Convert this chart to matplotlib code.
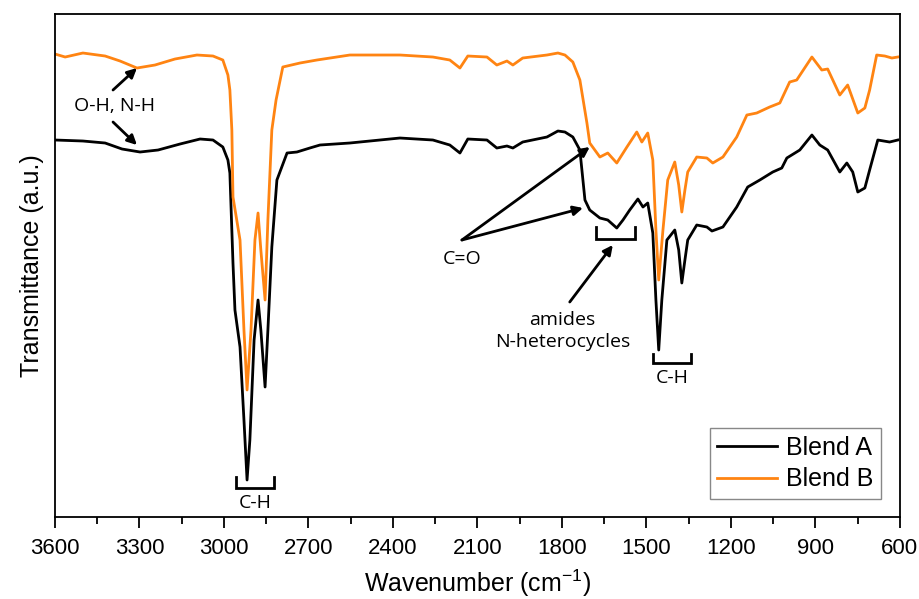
import numpy as np
import matplotlib
matplotlib.use("Agg")
import matplotlib.pyplot as plt

# ---- spectra (wavenumber in cm-1, transmittance in a.u.) ----
wn_a = [3600, 3501, 3422, 3362, 3298, 3234, 3156, 3085, 3039, 3004, 2986, 2979,
        2968, 2961, 2943, 2929, 2918, 2908, 2893, 2879, 2869, 2854, 2844, 2830,
        2812, 2776, 2741, 2695, 2659, 2553, 2375, 2258, 2198, 2162, 2134, 2066,
        2031, 1995, 1974, 1939, 1853, 1814, 1789, 1761, 1736, 1718, 1701, 1665,
        1637, 1605, 1583, 1559, 1530, 1512, 1495, 1477, 1466, 1456, 1445, 1427,
        1399, 1385, 1374, 1363, 1353, 1321, 1285, 1267, 1228, 1179, 1140, 1097,
        1051, 1019, 1001, 955, 912, 884, 856, 813, 788, 767, 749, 724, 707, 678,
        636, 607]
t_a = [377, 376, 374, 368, 365, 367, 373, 378, 377, 370, 357, 344,
       254, 207, 170, 97, 37, 77, 177, 217, 187, 130, 187, 270,
       337, 364, 365, 369, 372, 374, 379, 377, 372, 364, 378, 377,
       369, 371, 369, 375, 380, 386, 385, 380, 367, 317, 307, 299,
       297, 289, 297, 307, 318, 310, 314, 284, 217, 167, 217, 277,
       287, 267, 234, 257, 277, 292, 290, 286, 290, 310, 330, 337,
       345, 349, 359, 367, 382, 372, 367, 345, 354, 345, 325, 329, 347, 377,
       375, 377]

wn_b = [3600, 3564, 3501, 3422, 3369, 3309, 3245, 3174, 3096, 3039, 3004, 2986,
        2979, 2972, 2968, 2943, 2929, 2918, 2904, 2890, 2879, 2869, 2854, 2844,
        2830, 2815, 2791, 2730, 2670, 2553, 2375, 2258, 2198, 2162, 2134, 2066,
        2031, 1995, 1974, 1939, 1853, 1814, 1789, 1761, 1736, 1711, 1701, 1665,
        1637, 1605, 1569, 1534, 1516, 1495, 1477, 1466, 1456, 1441, 1424, 1399,
        1385, 1374, 1363, 1353, 1321, 1285, 1264, 1228, 1179, 1143, 1108, 1062,
        1026, 991, 966, 912, 877, 856, 813, 785, 749, 724, 707, 682, 653, 628, 607]
t_b = [463, 460, 464, 461, 456, 449, 452, 458, 462, 461, 457, 442,
       427, 387, 320, 277, 187, 127, 187, 277, 304, 267, 217, 297,
       387, 417, 450, 454, 457, 462, 462, 460, 457, 449, 461, 460,
       452, 456, 452, 459, 462, 464, 462, 455, 437, 394, 374, 360,
       364, 354, 370, 385, 375, 384, 357, 287, 237, 287, 337, 355,
       332, 305, 327, 345, 360, 359, 354, 360, 380, 402, 404, 410,
       414, 435, 437, 460, 447, 448, 422, 432, 404, 409, 427, 462, 461, 459, 460]

series_names = ["Blend A", "Blend B"]
series_colors = ["black", "#ff8412"]

# bracket spans (wavenumber from, to, bottom, top)
bracket_ch1 = (2957, 2822, 29, 40)
bracket_amide = (1679, 1541, 278, 290)
bracket_ch2 = (1477, 1342, 154, 163)

plt.rcParams['mathtext.default'] = 'regular'
fig = plt.figure(figsize=(9.2, 5.99), dpi=100)
ax = fig.add_axes([0.0598, 0.1369, 0.9182, 0.8397])

ax.plot(wn_a, t_a, color=series_colors[0], lw=2.0, label=series_names[0])
ax.plot(wn_b, t_b, color=series_colors[1], lw=2.0, label=series_names[1])

ax.set_xlim(3600, 600)
ax.set_ylim(0, 503)
ax.set_xticks(np.arange(3600, 599, -300))
ax.set_xticks(np.arange(3450, 600, -300), minor=True)
ax.set_yticks([])
for s in ax.spines.values():
    s.set_linewidth(1.3)
ax.tick_params(axis='x', which='major', direction='out', length=8, width=1.3,
               pad=7, labelsize=16, labelfontfamily='Liberation Sans')
ax.tick_params(axis='x', which='minor', direction='out', length=5, width=1.3)

ax.set_xlabel("Wavenumber (cm$^{-1}$)", fontsize=18, family='Liberation Sans',
              labelpad=6)
ax.set_ylabel("Transmittance (a.u.)", fontsize=18, family='Liberation Sans',
              labelpad=8)

leg = ax.legend(loc='lower right', bbox_to_anchor=(0.9775, 0.036),
                prop={'family': 'Liberation Sans', 'size': 18},
                handlelength=2.4, handletextpad=0.35, borderpad=0.3,
                labelspacing=0.3, borderaxespad=0, fancybox=False,
                framealpha=1)
leg.get_frame().set_edgecolor('#888888')
leg.get_frame().set_linewidth(1.0)

# ---- annotations ----
afont = dict(family='Open Sans', fontsize=14)
arw = dict(arrowstyle='-|>', color='black', lw=2.0, mutation_scale=14,
           shrinkA=0, shrinkB=0)

ax.text(3387, 411, "O-H, N-H", ha='center', va='center', **afont)
ax.annotate("", xy=(3309, 449), xytext=(3394, 427), arrowprops=arw)
ax.annotate("", xy=(3309, 372), xytext=(3394, 395), arrowprops=arw)

ax.text(2155, 258, "C=O", ha='center', va='center', **afont)
ax.annotate("", xy=(1701, 370), xytext=(2155, 277), arrowprops=arw)
ax.annotate("", xy=(1725, 309), xytext=(2155, 277), arrowprops=arw)

ax.text(1797, 186, "amides\nN-heterocycles", ha='center', va='center',
        linespacing=1.3, **afont)
ax.annotate("", xy=(1619, 272), xytext=(1772, 215), arrowprops=arw)


def bracket(span, label=None, label_y=None):
    x0, x1, yb, yt = span
    ax.plot([x0, x0, x1, x1], [yt, yb, yb, yt], color='black', lw=2.0,
            solid_joinstyle='miter')
    if label:
        ax.text((x0 + x1) / 2, label_y, label, ha='center', va='center', **afont)


bracket(bracket_ch1, "C-H", 14)
bracket(bracket_amide)
bracket(bracket_ch2, "C-H", 139)

fig.savefig("out.png", dpi=100)
